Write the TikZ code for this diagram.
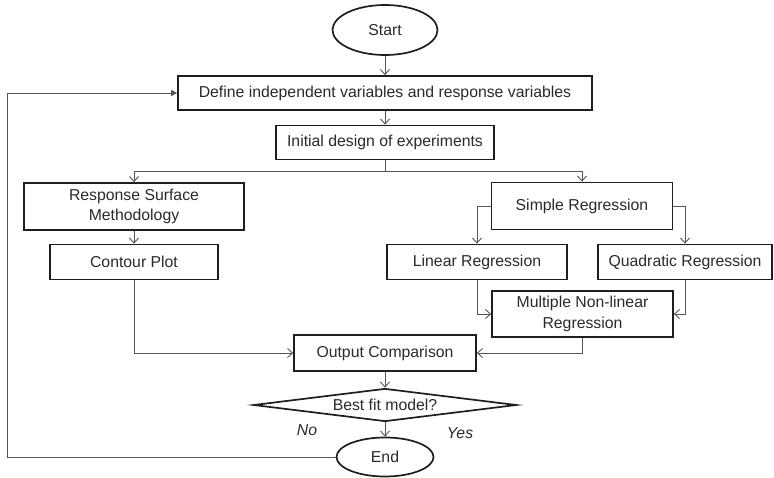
\documentclass[tikz,border=0pt]{standalone}
\usepackage{fontspec}
\setmainfont{Liberation Sans}
\usetikzlibrary{shapes.geometric,arrows.meta}
\definecolor{lineg}{HTML}{555555}
\definecolor{boxk}{HTML}{1E1E1E}
\definecolor{txt}{HTML}{2A2A2A}
\begin{document}
\begin{tikzpicture}[x=1pt,y=-1pt,
  font=\fontsize{15.8}{20.5}\selectfont,
  every node/.style={text=txt},
  box/.style={draw=boxk, line width=1.7pt, rectangle, inner sep=0pt, align=center},
  term/.style={draw=boxk, line width=1.7pt, ellipse, inner sep=0pt},
  dec/.style={draw=boxk, line width=1.7pt, diamond, aspect=8, inner sep=0pt, minimum width=263pt, minimum height=33pt},
  conn/.style={draw=lineg, line width=0.9pt},
  arr/.style={conn, -{Straight Barb[length=5pt,width=9pt,line width=0.9pt]}},
  farr/.style={conn, -{Triangle[length=6pt,width=6pt]}},
  lbl/.style={font=\fontsize{15.8}{18.5}\selectfont\itshape}
]
\useasboundingbox (0,0) rectangle (774,477);
\node[term, minimum width=105pt, minimum height=50pt] (start) at (385,30) {Start};
\node[box, minimum width=414pt, minimum height=34pt] (define) at (385,93) {Define independent variables and response variables};
\node[box, minimum width=218pt, minimum height=34pt] (init) at (385,142.5) {Initial design of experiments};
\node[box, minimum width=220pt, minimum height=47pt] (rsm) at (134,206.5) {Response Surface\\Methodology};
\node[box, minimum width=168pt, minimum height=35pt] (contour) at (134,262) {Contour Plot};
\node[box, minimum width=181pt, minimum height=47pt] (simple) at (582,206) {Simple Regression};
\node[box, minimum width=180pt, minimum height=35pt] (linear) at (477,262) {Linear Regression};
\node[box, minimum width=174pt, minimum height=35pt] (quad) at (685,262) {Quadratic Regression};
\node[box, minimum width=181pt, minimum height=46pt] (mult) at (582.5,314) {Multiple Non-linear\\Regression};
\node[box, minimum width=182pt, minimum height=36pt] (output) at (385,353) {Output Comparison};
\node[dec] (best) at (385,405) {Best fit model?};
\node[term, minimum width=97pt, minimum height=39pt] (end) at (385,457) {End};
\node[lbl] (no) at (307,430) {No};
\node[lbl] (yes) at (460,433) {Yes};
\coordinate (split) at (385,171);
\coordinate (fb) at (7.5,457);

\draw[arr] (start) -- (define);
\draw[arr] (define) -- (init);
\draw[conn] (init.south) -- (split);
\draw[arr] (split) -| (rsm.north);
\draw[arr] (split) -| (simple.north);
\draw[arr] (rsm) -- (contour);
\draw[arr] (simple.west) -| (linear.north);
\draw[arr] (simple.east) -| (quad.north);
\draw[arr] (linear.south) |- (mult.west);
\draw[arr] (quad.south) |- (mult.east);
\draw[arr] (contour.south) |- (output.west);
\draw[arr] (mult.south) |- (output.east);
\draw[arr] (output) -- (best);
\draw[arr] (best) -- (end);
\draw[farr] (end.west) -- (fb) |- (define.west);
\end{tikzpicture}
\end{document}
